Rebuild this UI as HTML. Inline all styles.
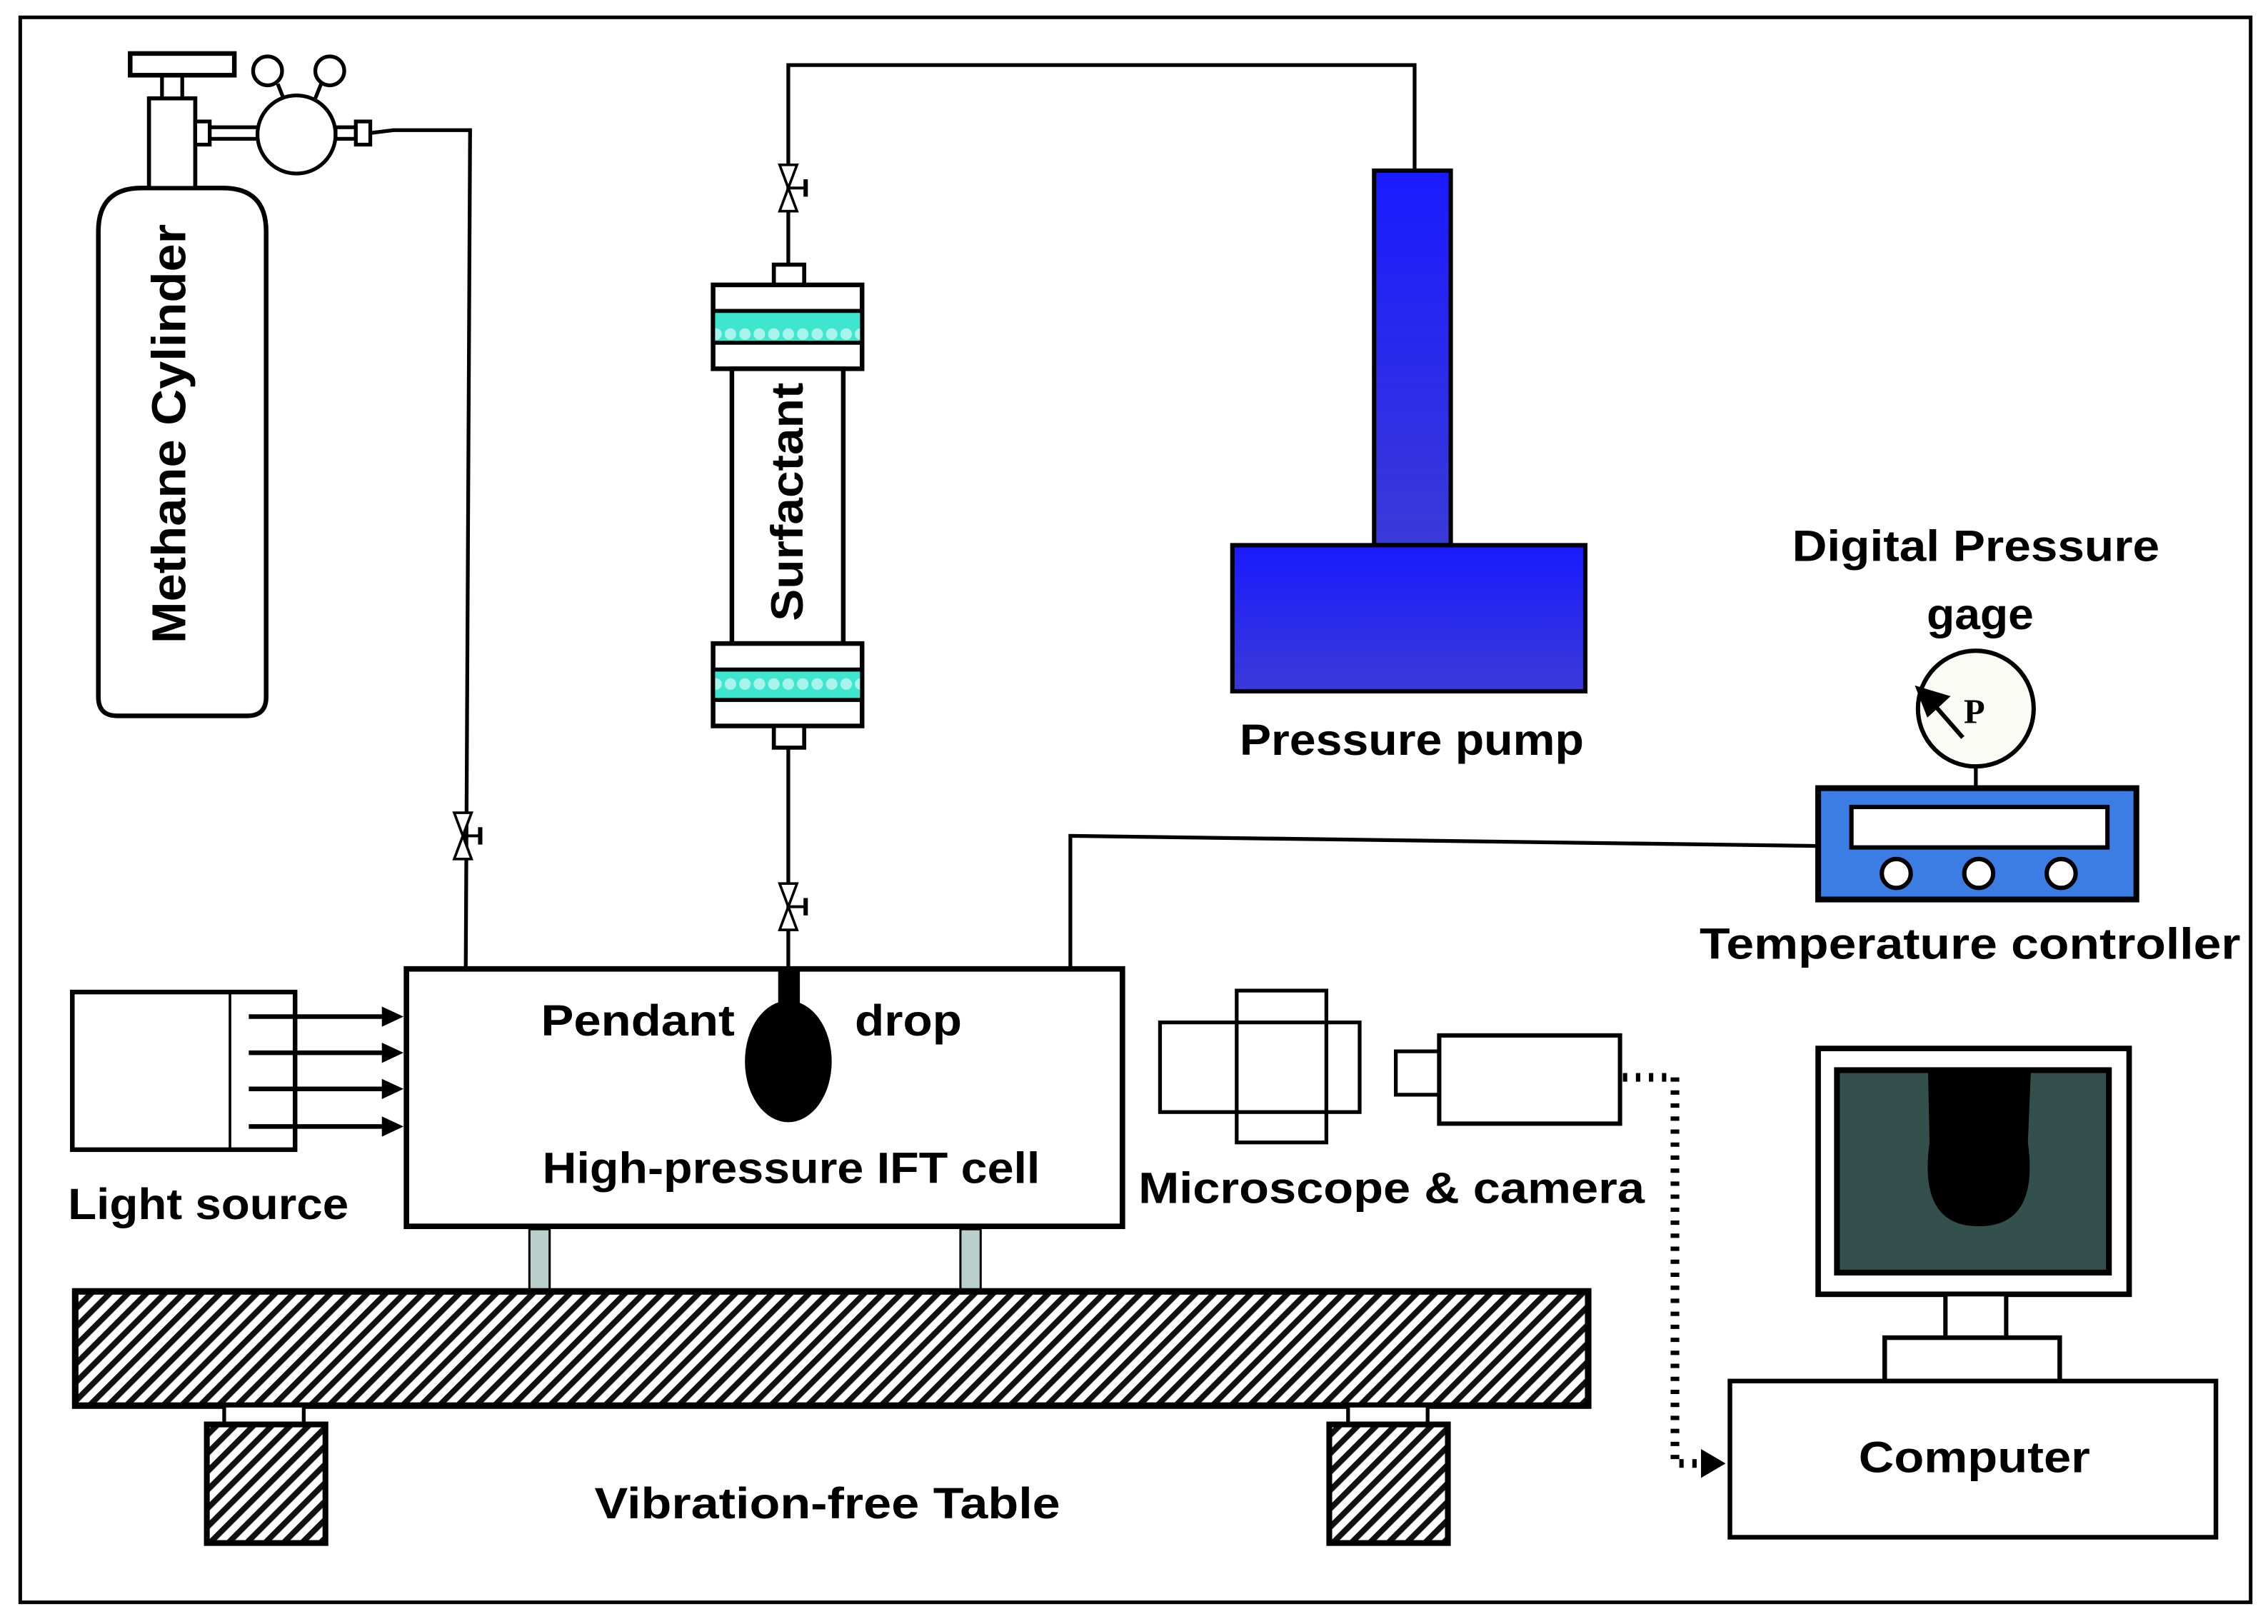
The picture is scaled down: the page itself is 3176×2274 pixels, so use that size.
<!DOCTYPE html>
<html><head><style>html,body{margin:0;padding:0;background:#fff}svg{display:block}</style></head>
<body>
<svg xmlns="http://www.w3.org/2000/svg" width="3176" height="2274" viewBox="0 0 1568 1123" preserveAspectRatio="none">
<defs>
<pattern id="h" width="9" height="9" patternUnits="userSpaceOnUse" patternTransform="rotate(45)">
<rect width="9" height="9" fill="#fff"/><rect width="4" height="9" fill="#111"/></pattern>
<linearGradient id="pb" x1="0" y1="0" x2="0" y2="1"><stop offset="0" stop-color="#1a1aff"/><stop offset="1" stop-color="#3a3ad8"/></linearGradient>
<pattern id="cy" width="10" height="22" patternUnits="userSpaceOnUse"><rect width="10" height="22" fill="#3ee6d0"/><circle cx="5" cy="11" r="4" fill="#a8f4ea"/></pattern>
<g id="valve"><path d="M-6,-16 L6,-16 L0,0 Z M-6,16 L6,16 L0,0 Z" fill="#fff" stroke="#000" stroke-width="1.8"/><line x1="0" y1="0" x2="12" y2="0" stroke="#000" stroke-width="2"/><line x1="12" y1="-6" x2="12" y2="6" stroke="#000" stroke-width="3"/></g>
</defs>
<rect x="0" y="0" width="1568" height="1123" fill="#fff"/>
<rect x="14" y="12" width="1542" height="1096" fill="none" stroke="#000" stroke-width="2.5"/>
<g fill="none" stroke="#000" stroke-width="2.6">
<path d="M68,160 Q68,130 98,130 L154,130 Q184,130 184,160 L184,482 Q184,495 171,495 L81,495 Q68,495 68,482 Z" fill="#fff" stroke-width="3.2"/>
<rect x="103" y="68" width="32" height="62" fill="#fff" stroke-width="2.8"/>
<rect x="112" y="52" width="14" height="16" fill="#fff"/>
<rect x="90" y="37" width="72" height="15" fill="#fff" stroke-width="3.2"/>
<rect x="135" y="84" width="10" height="16" fill="#fff"/>
<rect x="145" y="88" width="34" height="8" fill="#fff"/>
<circle cx="205" cy="93" r="27" fill="#fff"/>
<circle cx="185" cy="49" r="10" fill="#fff"/><circle cx="228" cy="49" r="10" fill="#fff"/>
<line x1="192" y1="58" x2="196" y2="68"/><line x1="222" y1="58" x2="218" y2="68"/>
<rect x="232" y="88" width="14" height="8" fill="#fff"/>
<rect x="246" y="84" width="10" height="16" fill="#fff"/>
<path d="M256,92 L272,90 L325,90 L322,670"/>
<path d="M978,118 L978,45 L545,45 L545,183"/>
<path d="M545,517 L545,670"/>
<rect x="535" y="183" width="21" height="14" fill="#fff" stroke-width="2.8"/>
<rect x="493" y="197" width="103" height="58" fill="#fff" stroke-width="3.2"/>
<rect x="493" y="215" width="103" height="22" fill="url(#cy)" stroke-width="2.8"/>
<rect x="506" y="255" width="77" height="190" fill="#fff" stroke-width="3.2"/>
<rect x="493" y="445" width="103" height="57" fill="#fff" stroke-width="3.2"/>
<rect x="493" y="463" width="103" height="21" fill="url(#cy)" stroke-width="2.8"/>
<rect x="535" y="502" width="21" height="15" fill="#fff" stroke-width="2.8"/>
<rect x="950" y="118" width="53" height="259" fill="url(#pb)" stroke-width="3"/>
<rect x="852" y="377" width="244" height="101" fill="url(#pb)" stroke-width="3"/>
<line x1="1366" y1="528" x2="1366" y2="545"/>
<circle cx="1366" cy="490" r="40" fill="#fbfbf5" stroke-width="3"/>
<line x1="1357" y1="510" x2="1336" y2="486" stroke-width="3"/>
<path d="M1326,476 L1346,482 L1333,494 Z" fill="#000"/>
<path d="M1257,585 L740,578 L740,670"/>
<rect x="1257" y="545" width="220" height="77" fill="#3b7de3" stroke-width="4"/>
<rect x="1280" y="558" width="177" height="28" fill="#fff" stroke-width="3"/>
<circle cx="1311" cy="604" r="10" fill="#fff" stroke-width="3"/>
<circle cx="1368" cy="604" r="10" fill="#fff" stroke-width="3"/>
<circle cx="1425" cy="604" r="10" fill="#fff" stroke-width="3"/>
<rect x="281" y="670" width="495" height="178" fill="#fff" stroke-width="3.8"/>
<rect x="50" y="686" width="154" height="109" fill="#fff" stroke-width="3.2"/>
<line x1="159" y1="686" x2="159" y2="795" stroke-width="1.8"/>
<rect x="366" y="850" width="14" height="43" fill="#b9cfcb" stroke-width="1.5"/>
<rect x="664" y="850" width="14" height="43" fill="#b9cfcb" stroke-width="1.5"/>
<rect x="52" y="893" width="1046" height="79" fill="url(#h)" stroke-width="4.5"/>
<rect x="155" y="972" width="55" height="13" fill="#fff"/>
<rect x="932" y="972" width="55" height="13" fill="#fff"/>
<rect x="143" y="985" width="82" height="82" fill="url(#h)" stroke-width="4"/>
<rect x="919" y="985" width="82" height="82" fill="url(#h)" stroke-width="4"/>
<rect x="802" y="707" width="138" height="62" fill="#fff"/>
<rect x="855" y="685" width="62" height="105" fill="none"/>
<rect x="965" y="727" width="30" height="30" fill="#fff"/>
<rect x="995" y="716" width="125" height="61" fill="#fff" stroke-width="3"/>
<path d="M1122,745 L1158,745 L1158,1012 L1178,1012" stroke-dasharray="3,6" stroke-width="6"/>
<rect x="1257" y="725" width="215" height="170" fill="#fff" stroke-width="3.8"/>
<rect x="1270" y="740" width="188" height="140" fill="#34504c" stroke-width="4"/>
<rect x="1345" y="895" width="42" height="30" fill="#fff" stroke-width="3"/>
<rect x="1303" y="925" width="121" height="30" fill="#fff" stroke-width="3.2"/>
<rect x="1196" y="955" width="336" height="108" fill="#fff" stroke-width="3.2"/>
</g>
<path d="M1333,742 L1404,742 L1402,790 Q1410,848 1368,848 Q1326,848 1334,790 Z" fill="#000"/>
<path d="M1176,1002 L1193,1012 L1176,1022 Z" fill="#000"/>
<rect x="538" y="670" width="15" height="30" fill="#000"/>
<ellipse cx="545" cy="734" rx="30" ry="42" fill="#000"/>
<g stroke="#000" stroke-width="3.2">
<line x1="172" y1="703" x2="266" y2="703"/><line x1="172" y1="728" x2="266" y2="728"/>
<line x1="172" y1="753" x2="266" y2="753"/><line x1="172" y1="779" x2="266" y2="779"/>
</g>
<g fill="#000"><path d="M264,696 L279,703 L264,710Z"/><path d="M264,721 L279,728 L264,735Z"/><path d="M264,746 L279,753 L264,760Z"/><path d="M264,772 L279,779 L264,786Z"/></g>
<use href="#valve" x="320" y="578"/>
<use href="#valve" x="545" y="130"/>
<use href="#valve" x="545" y="627"/>
<g font-family="Liberation Sans, sans-serif" font-weight="bold" fill="#000" font-size="30">
<text x="1365" y="500" font-family="Liberation Serif, serif" font-size="24" text-anchor="middle">P</text>
<text transform="translate(128,300) rotate(-90)" text-anchor="middle" font-size="33" textLength="290" lengthAdjust="spacingAndGlyphs">Methane Cylinder</text>
<text transform="translate(555,347) rotate(-90)" text-anchor="middle" font-size="31" textLength="165" lengthAdjust="spacingAndGlyphs">Surfactant</text>
<text x="976" y="522" text-anchor="middle" textLength="238" lengthAdjust="spacingAndGlyphs">Pressure pump</text>
<text x="1366" y="388" text-anchor="middle" textLength="254" lengthAdjust="spacingAndGlyphs">Digital Pressure</text>
<text x="1369" y="435" text-anchor="middle" textLength="74" lengthAdjust="spacingAndGlyphs">gage</text>
<text x="1362" y="663" text-anchor="middle" textLength="374" lengthAdjust="spacingAndGlyphs">Temperature controller</text>
<text x="441" y="716" text-anchor="middle" textLength="134" lengthAdjust="spacingAndGlyphs">Pendant</text>
<text x="628" y="716" text-anchor="middle" textLength="74" lengthAdjust="spacingAndGlyphs">drop</text>
<text x="547" y="818" text-anchor="middle" textLength="344" lengthAdjust="spacingAndGlyphs">High-pressure IFT cell</text>
<text x="144" y="843" text-anchor="middle" textLength="194" lengthAdjust="spacingAndGlyphs">Light source</text>
<text x="962" y="832" text-anchor="middle" textLength="350" lengthAdjust="spacingAndGlyphs">Microscope &amp; camera</text>
<text x="1365" y="1018" text-anchor="middle" textLength="160" lengthAdjust="spacingAndGlyphs">Computer</text>
<text x="572" y="1050" text-anchor="middle" textLength="322" lengthAdjust="spacingAndGlyphs">Vibration-free Table</text>
</g>
</svg>
</body></html>
